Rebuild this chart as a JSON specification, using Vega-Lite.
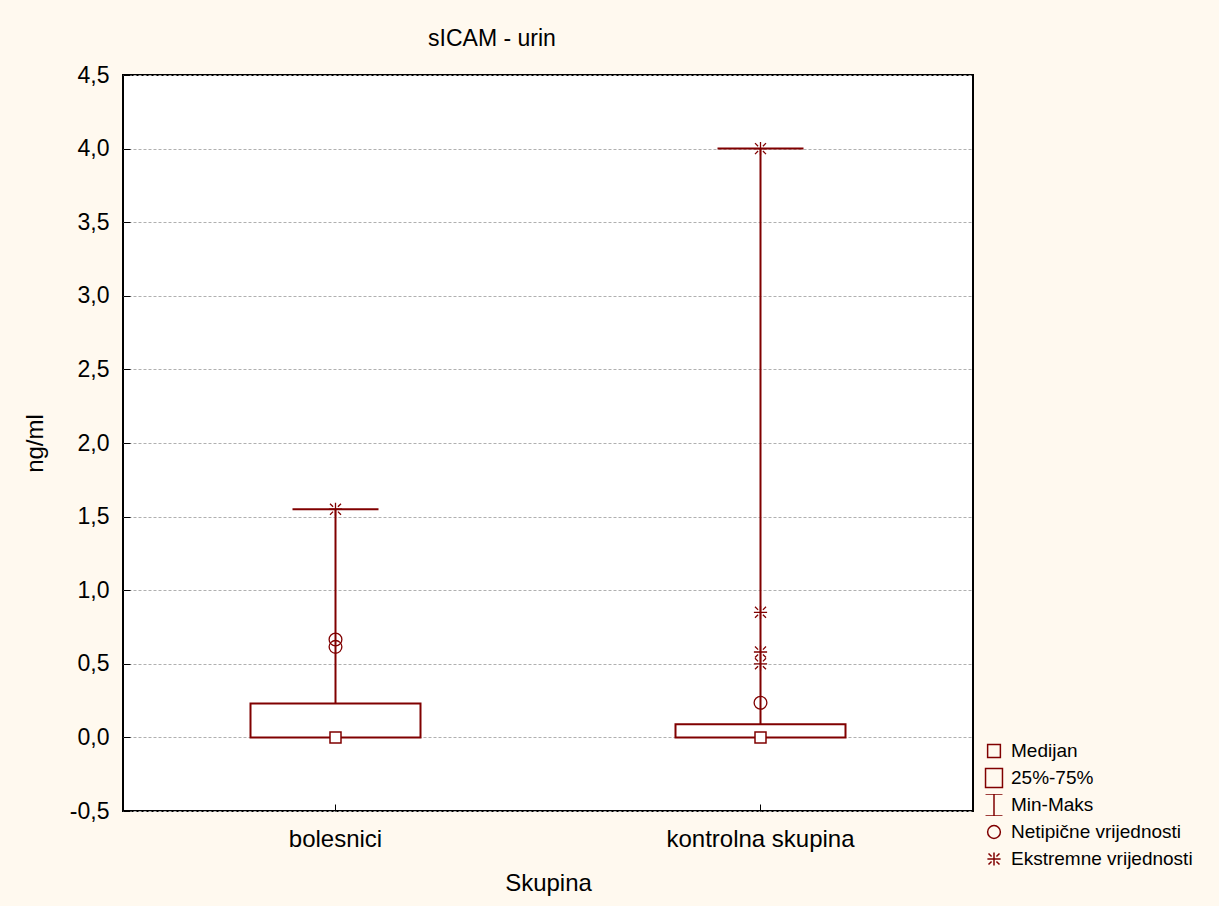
{
  "$schema": "https://vega.github.io/schema/vega-lite/v6.json",
  "autosize": {"type": "none"},
  "padding": {"left": 123, "top": 75, "right": 246, "bottom": 95},
  "width": 850,
  "height": 736,
  "background": "#FFF9EF",
  "config": {
    "font": "Liberation Sans",
    "view": {"stroke": "black", "strokeWidth": 2, "fill": "white"},
    "axis": {"labelFont": "Liberation Sans", "titleFont": "Liberation Sans", "labelColor": "black", "titleColor": "black", "titleFontWeight": "normal", "domain": false, "tickColor": "black", "labelLimit": 500}
  },
  "title": {"text": "sICAM - urin", "fontSize": 23, "font": "Liberation Sans", "fontWeight": "normal", "color": "black", "dx": -56, "offset": 13},
  "datasets": {
    "stats": [
      {"group": "bolesnici", "min": 0, "q1": 0, "median": 0, "q3": 0.23, "max": 1.55},
      {"group": "kontrolna skupina", "min": 0, "q1": 0, "median": 0, "q3": 0.09, "max": 4.0}
    ],
    "points": [
      {"group": "bolesnici", "value": 0.665, "type": "Netipične vrijednosti"},
      {"group": "bolesnici", "value": 0.615, "type": "Netipične vrijednosti"},
      {"group": "bolesnici", "value": 1.55, "type": "Ekstremne vrijednosti"},
      {"group": "kontrolna skupina", "value": 0.235, "type": "Netipične vrijednosti"},
      {"group": "kontrolna skupina", "value": 0.85, "type": "Ekstremne vrijednosti"},
      {"group": "kontrolna skupina", "value": 0.58, "type": "Ekstremne vrijednosti"},
      {"group": "kontrolna skupina", "value": 0.5, "type": "Ekstremne vrijednosti"},
      {"group": "kontrolna skupina", "value": 4.0, "type": "Ekstremne vrijednosti"}
    ]
  },
  "encoding": {
    "x": {
      "field": "group", "type": "nominal",
      "scale": {"type": "band", "domain": ["bolesnici", "kontrolna skupina"], "paddingInner": 0, "paddingOuter": 0},
      "axis": {"title": "Skupina", "labelAngle": 0, "labelFontSize": 24, "titleFontSize": 24, "labelPadding": 23, "titlePadding": 20, "tickSize": -7, "tickWidth": 1, "grid": false}
    }
  },
  "layer": [
    {
      "data": {"name": "stats"},
      "mark": {"type": "rule", "color": "#800000", "strokeWidth": 2},
      "encoding": {
        "y": {"field": "q3", "type": "quantitative",
          "scale": {"domain": [-0.5, 4.5], "nice": false, "zero": false},
          "axis": {"title": "ng/ml", "values": [-0.5, 0, 0.5, 1, 1.5, 2, 2.5, 3, 3.5, 4, 4.5],
            "labelExpr": "replace(replace(format(datum.value, '.1f'), '.', ','), '\u2212', '-')",
            "labelFontSize": 23, "titleFontSize": 24, "labelPadding": 21, "titlePadding": 22,
            "tickSize": -7, "tickWidth": 1,
            "grid": true, "gridColor": "#b0b0b0", "gridDash": [3, 2], "gridWidth": 1}},
        "y2": {"field": "max"}
      }
    },
    {
      "data": {"name": "stats"},
      "mark": {"type": "rule", "color": "#800000", "strokeWidth": 2},
      "encoding": {"y": {"field": "min", "type": "quantitative"}, "y2": {"field": "q1"}}
    },
    {
      "data": {"name": "stats"},
      "mark": {"type": "bar", "size": 170, "fill": "white", "stroke": "#800000", "strokeWidth": 2},
      "encoding": {"y": {"field": "q1", "type": "quantitative"}, "y2": {"field": "q3"}}
    },
    {
      "data": {"name": "stats"},
      "mark": {"type": "tick", "size": 86, "thickness": 2, "color": "#800000", "opacity": 1},
      "encoding": {"y": {"field": "max", "type": "quantitative"}}
    },
    {
      "data": {"name": "points"},
      "mark": {"type": "point", "filled": false, "color": "#800000", "size": 484, "strokeWidth": 1.3, "opacity": 1},
      "encoding": {
        "y": {"field": "value", "type": "quantitative"},
        "shape": {
          "field": "type", "type": "nominal",
          "scale": {
            "domain": ["Medijan", "25%-75%", "Min-Maks", "Netipične vrijednosti", "Ekstremne vrijednosti"],
            "range": [
              "M-0.58,-0.58L0.58,-0.58L0.58,0.58L-0.58,0.58Z",
              "M-0.77,-0.86L0.77,-0.86L0.77,0.86L-0.77,0.86Z",
              "M-0.77,-1L0.77,-1M0,-1L0,1M-0.77,1L0.77,1",
              "M0.58,0A0.58,0.58 0 1,1 -0.58,0A0.58,0.58 0 1,1 0.58,0Z",
              "M-0.6,0L0.6,0M0,-0.6L0,0.6M-0.5,-0.5L-0.22,-0.22M0.5,-0.5L0.22,-0.22M-0.5,0.5L-0.22,0.22M0.5,0.5L0.22,0.22"
            ]
          },
          "legend": {
            "title": null, "orient": "none", "legendX": 859, "legendY": 665,
            "padding": 0, "rowPadding": 5, "clipHeight": 22, "symbolSize": 484, "symbolStrokeWidth": 1.5,
            "symbolStrokeColor": "#800000", "symbolFillColor": "transparent", "symbolOpacity": 1,
            "labelFont": "Liberation Sans", "labelFontSize": 19, "labelColor": "black", "labelOffset": 5, "labelLimit": 300
          }
        }
      }
    },
    {
      "data": {"name": "stats"},
      "mark": {"type": "point", "shape": "square", "size": 121, "filled": true, "fill": "white", "stroke": "#800000", "strokeWidth": 1.5, "opacity": 1},
      "encoding": {"y": {"field": "median", "type": "quantitative"}}
    }
  ]
}
